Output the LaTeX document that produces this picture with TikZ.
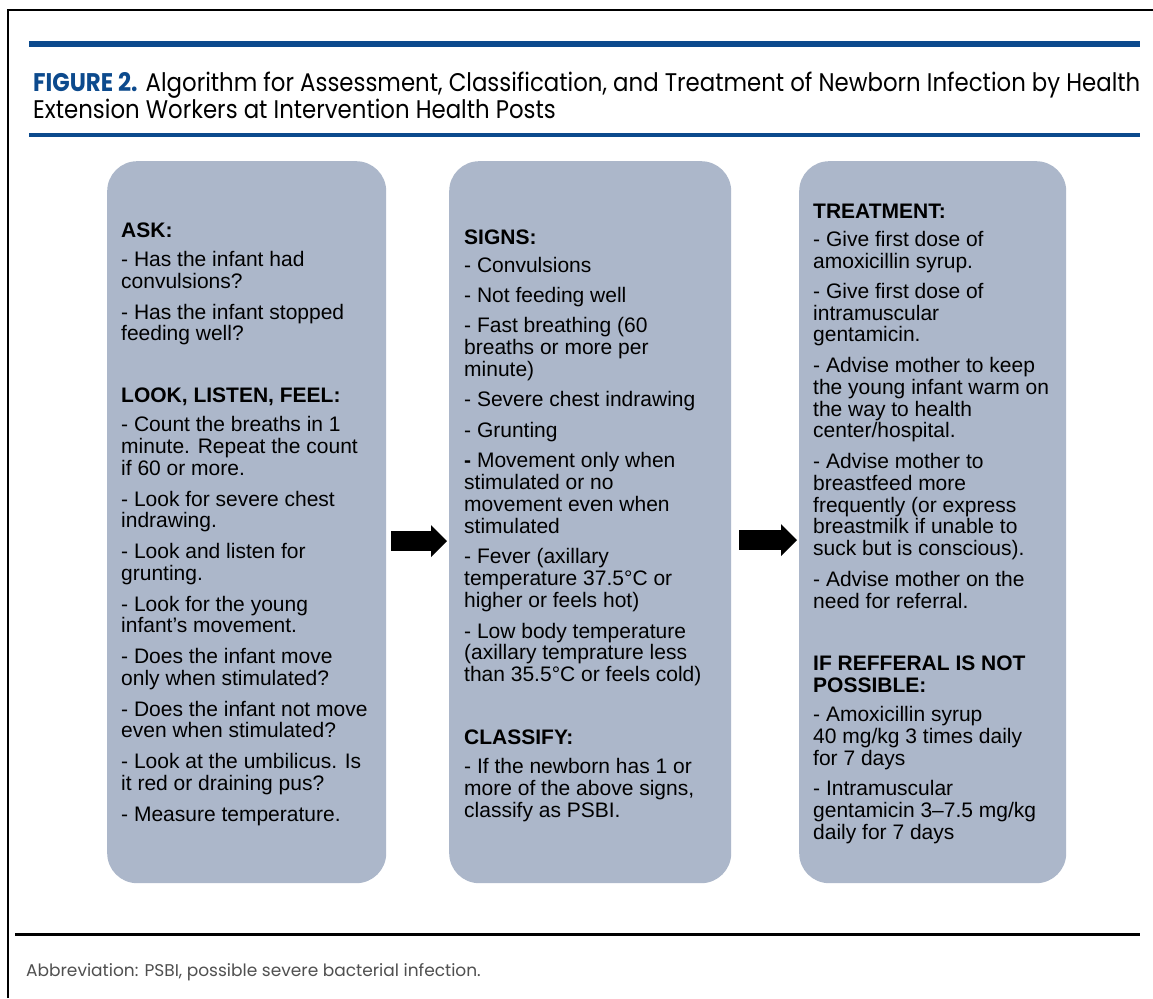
\documentclass[tikz,border=0pt]{standalone}
\usepackage{fontspec}
\setmainfont{Liberation Sans}
\newfontfamily\titlefont{Poppins}
\usetikzlibrary{arrows.meta,positioning}

\definecolor{figblue}{RGB}{12,74,141}
\definecolor{boxgray}{RGB}{172,183,202}
\definecolor{notegray}{RGB}{80,80,80}

\tikzset{
  card/.style={fill=boxgray, rounded corners=30pt, anchor=north west, inner sep=0pt},
  cardtext/.style={anchor=north west, inner sep=0pt, align=left,
    font=\fontsize{21}{21.75}\selectfont},
  bigarrow/.style={line width=20pt, -{Triangle[length=16pt,width=31pt]}},
}

\begin{document}
\begin{tikzpicture}[x=1pt, y=-1pt]
  \useasboundingbox[fill=white] (0, 0) rectangle (1153, 998);

  % frame and rules
  \draw[line width=2pt] (8, 998) -- (8, 10) -- (1153, 10);
  \draw[figblue, line width=6pt] (29, 44) -- (1140, 44);
  \draw[figblue, line width=3.5pt] (29, 135) -- (1140, 135);
  \draw[line width=3pt] (15, 934) -- (1140, 934);

  % title
  \node[anchor=base west, inner sep=0pt] (title1) at (33, 91)
    {\scalebox{0.896}[1]{\titlefont\fontsize{25.5}{27}\selectfont\textcolor{figblue}{\textbf{FIGURE 2.}} Algorithm for Assessment, Classification, and Treatment of Newborn Infection by Health}};
  \node[anchor=base west, inner sep=0pt] (title2) at (33, 118)
    {\scalebox{0.896}[1]{\titlefont\fontsize{25.5}{27}\selectfont Extension Workers at Intervention Health Posts}};

  % cards
  \node[card, minimum width=279pt, minimum height=722pt] (ask) at (107, 161) {};
  \node[card, minimum width=282pt, minimum height=722pt] (signs) at (449, 161) {};
  \node[card, minimum width=267pt, minimum height=722pt] (treat) at (799, 161) {};

  \node[cardtext] (asktext) at (121, 222.5) {\textbf{ASK:}\\[7.5pt]
    - Has the infant had\\ convulsions?\\[9pt]
    - Has the infant stopped\\ feeding well?\\[40pt]
    \textbf{LOOK, LISTEN, FEEL:}\\[7.5pt]
    - Count the breaths in 1\\ minute. Repeat the count\\ if 60 or more.\\[9pt]
    - Look for severe chest\\ indrawing.\\[9pt]
    - Look and listen for\\ grunting.\\[9pt]
    - Look for the young\\ infant’s movement.\\[9pt]
    - Does the infant move\\ only when stimulated?\\[9pt]
    - Does the infant not move\\ even when stimulated?\\[9pt]
    - Look at the umbilicus. Is\\ it red or draining pus?\\[9pt]
    - Measure temperature.};

  \node[cardtext] (signstext) at (464, 229.5) {\textbf{SIGNS:}\\[6pt]
    - Convulsions\\[8.5pt]
    - Not feeding well\\[8.5pt]
    - Fast breathing (60\\ breaths or more per\\ minute)\\[9pt]
    - Severe chest indrawing\\[8.5pt]
    - Grunting\\[9pt]
    \textbf{-} Movement only when\\ stimulated or no\\ movement even when\\ stimulated\\[9pt]
    - Fever (axillary\\ temperature 37.5°C or\\ higher or feels hot)\\[9pt]
    - Low body temperature\\ (axillary temprature less\\ than 35.5°C or feels cold)\\[41pt]
    \textbf{CLASSIFY:}\\[7.5pt]
    - If the newborn has 1 or\\ more of the above signs,\\ classify as PSBI.};

  \node[cardtext] (treattext) at (813, 203.5) {\textbf{TREATMENT:}\\[6.5pt]
    - Give first dose of\\ amoxicillin syrup.\\[8.5pt]
    - Give first dose of\\ intramuscular\\ gentamicin.\\[9pt]
    - Advise mother to keep\\ the young infant warm on\\ the way to health\\ center/hospital.\\[9pt]
    - Advise mother to\\ breastfeed more\\ frequently (or express\\ breastmilk if unable to\\ suck but is conscious).\\[9pt]
    - Advise mother on the\\ need for referral.\\[41pt]
    \textbf{IF REFFERAL IS NOT}\\ \textbf{POSSIBLE:}\\[7.5pt]
    - Amoxicillin syrup\\ 40 mg/kg 3 times daily\\ for 7 days\\[8.5pt]
    - Intramuscular\\ gentamicin 3–7.5 mg/kg\\ daily for 7 days};

  % arrows between cards
  \draw[bigarrow, shorten <=5pt, shorten >=2pt] ([yshift=-19pt]ask.east) -- ([yshift=-19pt]signs.west);
  \draw[bigarrow, shorten <=8pt, shorten >=2pt] ([yshift=-18pt]signs.east) -- ([yshift=-18pt]treat.west);

  % footnote
  \node[anchor=base west, inner sep=0pt, text=notegray] (note) at (26, 976)
    {\titlefont\fontsize{17}{20}\selectfont Abbreviation: PSBI, possible severe bacterial infection.};
\end{tikzpicture}
\end{document}
